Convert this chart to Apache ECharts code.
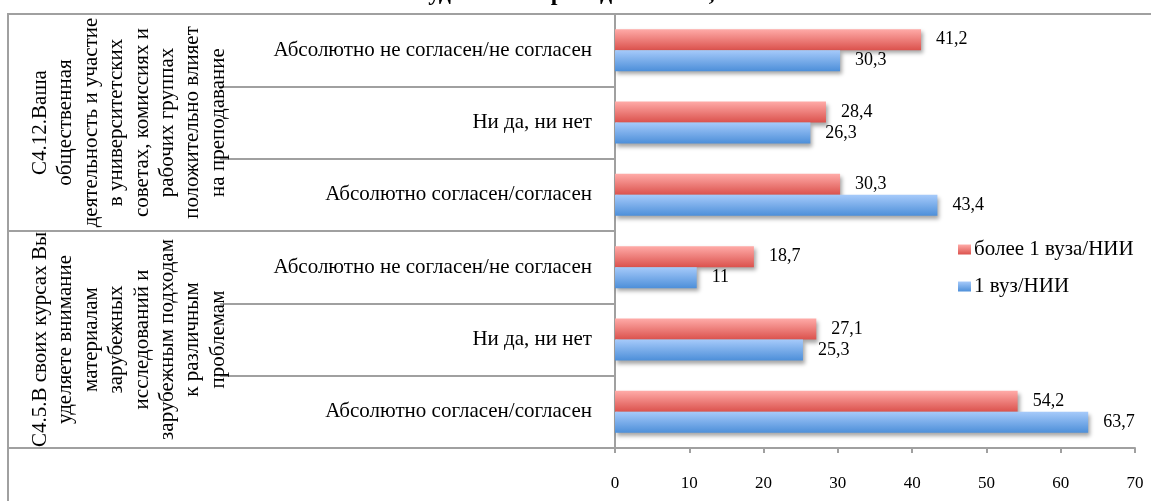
<!DOCTYPE html>
<html>
<head>
<meta charset="utf-8">
<script src="https://cdn.jsdelivr.net/npm/echarts@6/dist/echarts.min.js"></script>
<style>
  html, body { margin: 0; padding: 0; background: #fff; }
  #chart { width: 1151px; height: 501px; }
</style>
</head>
<body>
<div id="chart"></div>
<script>
var titleText = 'студентов и преподавателей, %';
var groups = [
    'С4.12.Ваша\nобщественная\nдеятельность и участие\nв университетских\nсоветах, комиссиях и\nрабочих группах\nположительно влияет\nна преподавание',
    'С4.5.В своих курсах Вы\nуделяете внимание\nматериалам\nзарубежных\nисследований и\nзарубежным подходам\nк различным\nпроблемам'
];
var categories = [
    'Абсолютно не согласен/не согласен',
    'Ни да, ни нет',
    'Абсолютно согласен/согласен',
    'Абсолютно не согласен/не согласен',
    'Ни да, ни нет',
    'Абсолютно согласен/согласен'
];
var seriesNames = ['более 1 вуза/НИИ', '1 вуз/НИИ'];
var moreThanOne = [41.2, 28.4, 30.3, 18.7, 27.1, 54.2];
var oneOnly = [30.3, 26.3, 43.4, 11, 25.3, 63.7];

var FONT = "'Liberation Serif', 'Times New Roman', serif";
var LINE = '#a0a0a0';

function grad(top, bottom) {
    return new echarts.graphic.LinearGradient(0, 0, 0, 1, [
        { offset: 0, color: top },
        { offset: 1, color: bottom }
    ]);
}

function commaLabel(p) {
    return String(p.value).replace('.', ',');
}

var chart = echarts.init(document.getElementById('chart'));

var option = {
    animation: false,
    backgroundColor: '#fff',
    title: {
        text: titleText,
        left: 'center',
        top: -23,
        textStyle: { fontFamily: FONT, fontSize: 24, fontWeight: 'bold', color: '#000' }
    },
    graphic: [{
        type: 'rect',
        shape: { x: 8, y: 14, width: 1200, height: 600 },
        style: { fill: 'none', stroke: LINE, lineWidth: 2 },
        silent: true
    }],
    legend: {
        orient: 'vertical',
        left: 953,
        top: 234,
        itemWidth: 13,
        itemHeight: 10,
        itemGap: 16,
        icon: 'rect',
        data: seriesNames,
        textStyle: { fontFamily: FONT, fontSize: 21, color: '#000', padding: [0, 0, 0, -2] }
    },
    grid: { left: 615, right: 16, top: 14, bottom: 53, containLabel: false, outerBoundsMode: 'none' },
    xAxis: {
        type: 'value',
        min: 0,
        max: 70,
        interval: 10,
        axisLine: { show: true, lineStyle: { color: LINE, width: 2 } },
        axisTick: { show: true, length: 5, lineStyle: { color: LINE, width: 2 } },
        splitLine: { show: false },
        axisLabel: { margin: 27, fontFamily: FONT, fontSize: 17, color: '#000' }
    },
    yAxis: [{
        type: 'category',
        inverse: true,
        data: categories,
        axisLine: { show: true, lineStyle: { color: LINE, width: 2 } },
        axisTick: { show: true, length: 395, lineStyle: { color: LINE, width: 2 } },
        axisLabel: { margin: 23, fontFamily: FONT, fontSize: 21, color: '#000' }
    }, {
        type: 'category',
        inverse: true,
        position: 'left',
        data: groups,
        axisLine: { show: false },
        axisTick: { show: true, length: 607, lineStyle: { color: LINE, width: 2 } },
        axisLabel: {
            rotate: 90,
            margin: 384,
            interval: 0,
            fontFamily: FONT,
            fontSize: 21,
            lineHeight: 25.4,
            align: 'center',
            color: '#000'
        }
    }],
    series: [{
        name: seriesNames[0],
        type: 'bar',
        yAxisIndex: 0,
        data: moreThanOne,
        barWidth: 21,
        barGap: '0%',
        itemStyle: {
            color: grad('#ffaba8', '#db524d'),
            shadowColor: 'rgba(0,0,0,0.35)',
            shadowBlur: 4,
            shadowOffsetX: 2,
            shadowOffsetY: 3
        },
        label: {
            show: true,
            position: 'right',
            distance: 15,
            formatter: commaLabel,
            fontFamily: FONT,
            fontSize: 18,
            color: '#000'
        }
    }, {
        name: seriesNames[1],
        type: 'bar',
        yAxisIndex: 0,
        data: oneOnly,
        barWidth: 21,
        barGap: '0%',
        itemStyle: {
            color: grad('#a6cafa', '#4d8fd9'),
            shadowColor: 'rgba(0,0,0,0.35)',
            shadowBlur: 4,
            shadowOffsetX: 2,
            shadowOffsetY: 3
        },
        label: {
            show: true,
            position: 'right',
            distance: 15,
            formatter: commaLabel,
            fontFamily: FONT,
            fontSize: 18,
            color: '#000'
        }
    }]
};

chart.setOption(option);
</script>
</body>
</html>
